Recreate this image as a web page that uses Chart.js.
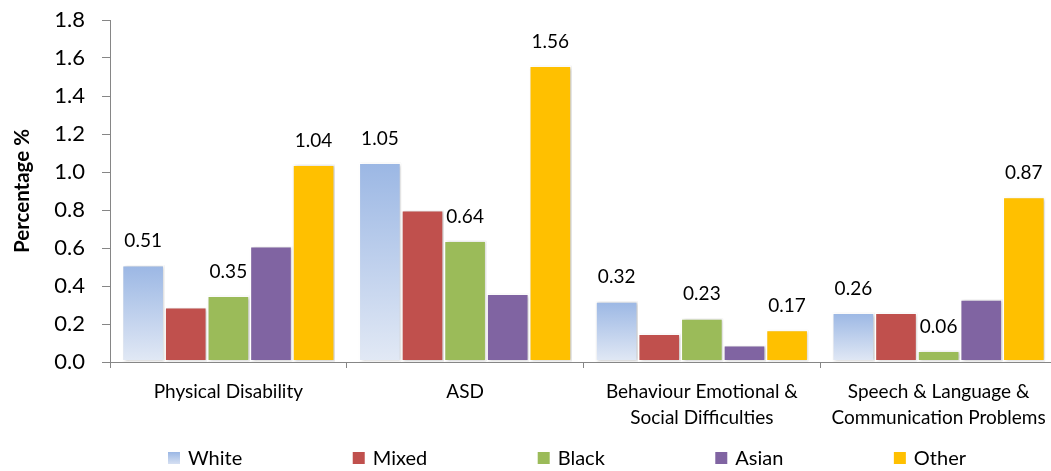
<!DOCTYPE html>
<html>
<head>
<meta charset="utf-8">
<script src="https://cdn.jsdelivr.net/npm/chart.js@4.4.1/dist/chart.umd.min.js"></script>
<style>
  html, body { margin: 0; padding: 0; background: #ffffff; overflow: hidden; }
  #wrap { position: relative; width: 1057px; height: 471px; }
</style>
</head>
<body>
<div id="wrap"><canvas id="chart"></canvas></div>
<script>
// Categories (multi-line labels are arrays)
const categories = [
  'Physical Disability',
  'ASD',
  ['Behaviour Emotional &', 'Social Difficulties'],
  ['Speech & Language &', 'Communication Problems']
];

// Percentage of pupils, by ethnic group
const white  = [0.51, 1.05, 0.32, 0.26];
const mixed  = [0.29, 0.80, 0.15, 0.26];
const black  = [0.35, 0.64, 0.23, 0.06];
const asian  = [0.61, 0.36, 0.09, 0.33];
const other  = [1.04, 1.56, 0.17, 0.87];

const seriesNames = ['White', 'Mixed', 'Black', 'Asian', 'Other'];
const labelledSeries = ['White', 'Black', 'Other'];

const yTicks = [0.0, 0.2, 0.4, 0.6, 0.8, 1.0, 1.2, 1.4, 1.6, 1.8];

const FONT = 'Lato, "Open Sans", sans-serif';
const AXIS_GREY = '#868686';

// White bars use a vertical light-blue gradient
function whiteFill(c) {
  const chart = c.chart;
  if (!chart.chartArea || c.type !== 'data') return '#b4c7e7';
  const y = chart.scales.y;
  const g = chart.ctx.createLinearGradient(0, y.getPixelForValue(c.raw), 0, y.getPixelForValue(0));
  g.addColorStop(0, '#9bb7e4');
  g.addColorStop(1, '#e2e9f5');
  return g;
}

const fills = {
  White: whiteFill,
  Mixed: '#c0504d',
  Black: '#9bbb59',
  Asian: '#8064a2',
  Other: '#ffc000'
};
const legendSwatch = {
  White: ['#9bb7e4', '#d6e0f2'],
  Mixed: ['#c0504d', '#c0504d'],
  Black: ['#9bbb59', '#9bbb59'],
  Asian: ['#8064a2', '#8064a2'],
  Other: ['#ffc000', '#ffc000']
};

const values = [white, mixed, black, asian, other];

const datasets = seriesNames.map((name, i) => ({
  label: name,
  data: values[i],
  backgroundColor: fills[name],
  borderColor: '#ffffff',
  borderWidth: 1.5,
  borderSkipped: false,
  categoryPercentage: 0.9,
  barPercentage: 1.0
}));

// Soft drop shadow under the bars
const barShadow = {
  id: 'barShadow',
  beforeDatasetsDraw(chart) {
    const ctx = chart.ctx;
    ctx.save();
    ctx.shadowColor = 'rgba(0,0,0,0.22)';
    ctx.shadowBlur = 3;
    ctx.shadowOffsetX = 1.5;
    ctx.shadowOffsetY = 0.5;
  },
  afterDatasetsDraw(chart) {
    chart.ctx.restore();
  }
};

// Value labels above selected series
const valueLabels = {
  id: 'valueLabels',
  afterDatasetsDraw(chart) {
    const ctx = chart.ctx;
    ctx.save();
    ctx.font = '19px ' + FONT;
    ctx.fillStyle = '#000000';
    ctx.textAlign = 'center';
    ctx.textBaseline = 'middle';
    chart.data.datasets.forEach((ds, di) => {
      if (!labelledSeries.includes(ds.label)) return;
      chart.getDatasetMeta(di).data.forEach((bar, i) => {
        ctx.fillText(ds.data[i].toFixed(2), bar.x, bar.y - 24);
      });
    });
    ctx.restore();
  }
};

// Legend row along the bottom
const bottomLegend = {
  id: 'bottomLegend',
  afterDraw(chart) {
    const ctx = chart.ctx;
    ctx.save();
    ctx.font = '20px ' + FONT;
    ctx.textBaseline = 'middle';
    const box = 12, gapText = 8;
    const startX = 168, endX = 966, cy = 458;
    const items = chart.data.datasets.map(ds => ({ name: ds.label, w: box + gapText + ctx.measureText(ds.label).width }));
    const total = items.reduce((s, it) => s + it.w, 0);
    const gap = (endX - startX - total) / (items.length - 1);
    let x = startX;
    items.forEach(it => {
      const sw = legendSwatch[it.name];
      const g = ctx.createLinearGradient(0, cy - box / 2, 0, cy + box / 2);
      g.addColorStop(0, sw[0]);
      g.addColorStop(1, sw[1]);
      ctx.fillStyle = g;
      ctx.fillRect(x, cy - box / 2, box, box);
      ctx.fillStyle = '#000000';
      ctx.textAlign = 'left';
      ctx.fillText(it.name, x + box + gapText, cy + 1);
      x += it.w + gap;
    });
    ctx.restore();
  }
};

new Chart(document.getElementById('chart'), {
  type: 'bar',
  data: { labels: categories, datasets },
  options: {
    responsive: true,
    maintainAspectRatio: false,
    animation: false,
    layout: { padding: { top: 20, bottom: 39, right: 0, left: 0 } },
    plugins: {
      legend: { display: false },
      tooltip: { enabled: false }
    },
    scales: {
      x: {
        offset: true,
        grid: {
          offset: true,
          drawOnChartArea: false,
          drawTicks: true,
          tickLength: 6,
          color: AXIS_GREY
        },
        border: { color: AXIS_GREY, width: 1 },
        ticks: {
          color: '#000000',
          font: { family: FONT, size: 19, lineHeight: 1.37 },
          padding: 11,
          maxRotation: 0,
          autoSkip: false
        },
        afterFit(scale) {
          scale.height = 70;
          scale.paddingLeft = 0;
          scale.paddingRight = 0;
        }
      },
      y: {
        min: 0,
        max: 1.8,
        afterBuildTicks(scale) { scale.ticks = yTicks.map(v => ({ value: v })); },
        grid: {
          drawOnChartArea: false,
          drawTicks: true,
          tickLength: 8,
          color: AXIS_GREY
        },
        border: { color: AXIS_GREY, width: 1 },
        ticks: {
          color: '#000000',
          font: { family: FONT, size: 22 },
          padding: 17,
          callback: v => Number(v).toFixed(1)
        },
        title: {
          display: true,
          text: 'Percentage %',
          color: '#000000',
          font: { family: FONT, size: 20.5, weight: 'bold' },
          padding: { top: 10, bottom: 0 }
        },
        afterFit(scale) {
          scale.width = 110;
          scale.paddingTop = 0;
          scale.paddingBottom = 0;
        }
      }
    }
  },
  plugins: [barShadow, valueLabels, bottomLegend]
});
</script>
</body>
</html>
